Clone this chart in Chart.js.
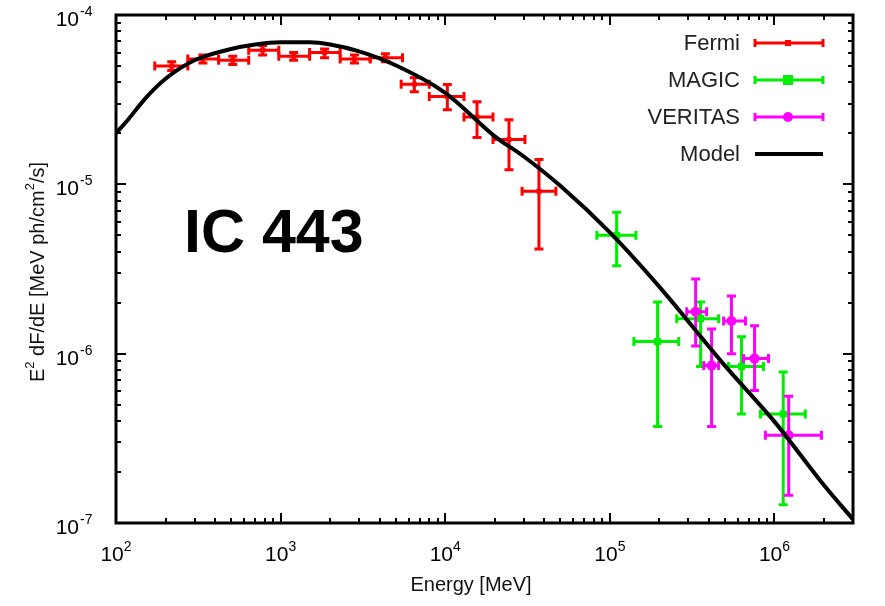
<!DOCTYPE html>
<html>
<head>
<meta charset="utf-8">
<script src="https://cdn.jsdelivr.net/npm/chart.js@4.4.1/dist/chart.umd.min.js"></script>
<style>
  html, body { margin: 0; padding: 0; background: #fff; }
</style>
</head>
<body>
<canvas id="sedChart" width="885" height="606"></canvas>
<script>
// Fermi-LAT points (energy in MeV, E^2 dF/dE in MeV/cm2/s)
const fermiE    = [218, 337, 512, 778, 1200, 1850, 2810, 4330, 6490, 10300, 15600, 24400, 37100];
const fermiElo  = [172, 273, 420, 640, 975, 1500, 2300, 3500, 5400, 8000, 13000, 19500, 29300];
const fermiEhi  = [273, 420, 640, 975, 1500, 2300, 3500, 5500, 8000, 13000, 19500, 30500, 47000];
const fermiF    = [5.0e-5, 5.5e-5, 5.4e-5, 6.2e-5, 5.7e-5, 6.0e-5, 5.5e-5, 5.6e-5, 3.9e-5, 3.3e-5, 2.5e-5, 1.84e-5, 9.1e-6];
const fermiFlo  = [4.7e-5, 5.2e-5, 5.1e-5, 5.8e-5, 5.4e-5, 5.6e-5, 5.2e-5, 5.3e-5, 3.52e-5, 2.76e-5, 1.89e-5, 1.22e-5, 4.15e-6];
const fermiFhi  = [5.3e-5, 5.8e-5, 5.7e-5, 6.6e-5, 6.0e-5, 6.3e-5, 5.8e-5, 5.9e-5, 4.26e-5, 3.88e-5, 3.07e-5, 2.41e-5, 1.40e-5];

// MAGIC
const magicE   = [110000, 195000, 356000, 631000, 1130000];
const magicElo = [83400, 140000, 255000, 526000, 822000];
const magicEhi = [144000, 262000, 458000, 857000, 1540000];
const magicF   = [5.0e-6, 1.18e-6, 1.61e-6, 8.4e-7, 4.4e-7];
const magicFlo = [3.3e-6, 3.72e-7, 8.4e-7, 4.4e-7, 1.28e-7];
const magicFhi = [6.84e-6, 2.02e-6, 2.02e-6, 1.26e-6, 7.8e-7];

// VERITAS
const veritasE   = [332000, 415000, 548000, 757000, 1220000];
const veritasElo = [293000, 372000, 491000, 649000, 881000];
const veritasEhi = [387000, 458000, 667000, 920000, 1930000];
const veritasF   = [1.77e-6, 8.5e-7, 1.56e-6, 9.35e-7, 3.3e-7];
const veritasFlo = [1.11e-6, 3.72e-7, 1.0e-6, 6.05e-7, 1.46e-7];
const veritasFhi = [2.76e-6, 1.4e-6, 2.19e-6, 1.46e-6, 5.6e-7];

// model curve
const modelE = [100, 120, 150, 200, 300, 500, 700, 1000, 1500, 2000, 3000, 5000, 10000, 20000, 30000, 50000, 100000, 200000, 500000, 1000000, 2000000, 3000000];
const modelF = [2.0e-5, 2.45e-5, 3.2e-5, 4.2e-5, 5.4e-5, 6.3e-5, 6.7e-5, 6.9e-5, 6.9e-5, 6.7e-5, 6.1e-5, 5.05e-5, 3.47e-5, 1.92e-5, 1.46e-5, 9.8e-6, 5.2e-6, 2.48e-6, 8.5e-7, 3.97e-7, 1.67e-7, 1.05e-7];

// axis ticks
const xDecades = [100, 1000, 10000, 100000, 1000000];
const xExps = ['2', '3', '4', '5', '6'];
const yDecades = [1e-4, 1e-5, 1e-6, 1e-7];
const yExps = ['-4', '-5', '-6', '-7'];

const FONT = '"Liberation Sans", Arial, Helvetica, sans-serif';

const toPts = (xs, ys) => xs.map((x, i) => ({ x: x, y: ys[i] }));

// error bars per dataset index
const errorBars = {
    1: { color: '#ff0000', elo: fermiElo, ehi: fermiEhi, flo: fermiFlo, fhi: fermiFhi },
    2: { color: '#00ee00', elo: magicElo, ehi: magicEhi, flo: magicFlo, fhi: magicFhi },
    3: { color: '#ff00ff', elo: veritasElo, ehi: veritasEhi, flo: veritasFlo, fhi: veritasFhi }
};

const errorBarPlugin = {
    id: 'errorBars',
    beforeDatasetsDraw(chart) {
        const ctx = chart.ctx;
        const xs = chart.scales.x, ys = chart.scales.y;
        const cap = 4.5;
        ctx.save();
        ctx.lineWidth = 3;
        ctx.lineCap = 'butt';
        Object.keys(errorBars).forEach(idx => {
            const eb = errorBars[idx];
            const pts = chart.data.datasets[idx].data;
            ctx.strokeStyle = eb.color;
            pts.forEach((p, i) => {
                const px = xs.getPixelForValue(p.x);
                const py = ys.getPixelForValue(p.y);
                const x0 = xs.getPixelForValue(eb.elo[i]);
                const x1 = xs.getPixelForValue(eb.ehi[i]);
                const y0 = ys.getPixelForValue(eb.flo[i]);
                const y1 = ys.getPixelForValue(eb.fhi[i]);
                ctx.beginPath();
                ctx.moveTo(x0, py); ctx.lineTo(x1, py);
                ctx.moveTo(px, y0); ctx.lineTo(px, y1);
                // caps
                ctx.moveTo(x0, py - cap); ctx.lineTo(x0, py + cap);
                ctx.moveTo(x1, py - cap); ctx.lineTo(x1, py + cap);
                ctx.moveTo(px - cap, y0); ctx.lineTo(px + cap, y0);
                ctx.moveTo(px - cap, y1); ctx.lineTo(px + cap, y1);
                ctx.stroke();
            });
        });
        ctx.restore();
    }
};

function drawParts(ctx, parts, x, y, size, supSize, align) {
    // parts: [text, isSuperscript]
    let total = 0;
    const widths = parts.map(p => {
        ctx.font = (p[1] ? supSize : size) + 'px ' + FONT;
        const w = ctx.measureText(p[0]).width;
        total += w;
        return w;
    });
    let cx = align === 'center' ? x - total / 2 : (align === 'right' ? x - total : x);
    ctx.textAlign = 'left';
    ctx.textBaseline = 'alphabetic';
    parts.forEach((p, i) => {
        ctx.font = (p[1] ? supSize : size) + 'px ' + FONT;
        ctx.fillText(p[0], cx, p[1] ? y - size * 0.5 : y);
        cx += widths[i];
    });
}

const framePlugin = {
    id: 'frame',
    afterDraw(chart) {
        const ctx = chart.ctx;
        const a = chart.chartArea;
        const xs = chart.scales.x, ys = chart.scales.y;
        ctx.save();
        ctx.strokeStyle = '#000';
        ctx.fillStyle = '#000';

        // inward ticks
        ctx.lineWidth = 2;
        ctx.beginPath();
        for (let d = 100; d <= 1e6; d *= 10) {
            for (let k = 1; k <= 9; k++) {
                const v = d * k;
                if (v > 3e6) break;
                const px = Math.round(xs.getPixelForValue(v));
                const len = k === 1 ? 10 : 5;
                ctx.moveTo(px, a.bottom); ctx.lineTo(px, a.bottom - len);
                ctx.moveTo(px, a.top); ctx.lineTo(px, a.top + len);
            }
        }
        for (let d = 1e-7; d <= 1.1e-4; d *= 10) {
            for (let k = 1; k <= 9; k++) {
                const v = d * k;
                if (v > 1.01e-4) break;
                const py = Math.round(ys.getPixelForValue(v));
                const len = k === 1 ? 10 : 5;
                ctx.moveTo(a.left, py); ctx.lineTo(a.left + len, py);
                ctx.moveTo(a.right, py); ctx.lineTo(a.right - len, py);
            }
        }
        ctx.stroke();

        // frame
        ctx.lineWidth = 3;
        ctx.strokeRect(a.left, a.top, a.right - a.left, a.bottom - a.top);

        // tick labels
        xDecades.forEach((v, i) => {
            drawParts(ctx, [['10', false], [xExps[i], true]], xs.getPixelForValue(v), 561, 21, 14, 'center');
        });
        yDecades.forEach((v, i) => {
            const py = ys.getPixelForValue(v);
            ctx.font = '21px ' + FONT;
            ctx.textAlign = 'right';
            ctx.textBaseline = 'alphabetic';
            ctx.fillText('10', 79, py + 11);
            ctx.font = '14px ' + FONT;
            ctx.textAlign = 'left';
            ctx.fillText(yExps[i], 80, py + 1);
        });

        // axis titles
        ctx.fillStyle = '#111';
        ctx.font = '20px ' + FONT;
        ctx.textAlign = 'center';
        ctx.fillText('Energy [MeV]', 471, 591);
        ctx.save();
        ctx.translate(44, 272);
        ctx.rotate(-Math.PI / 2);
        drawParts(ctx, [['E', false], ['2', true], [' dF/dE [MeV ph/cm', false], ['2', true], ['/s]', false]], 0, 0, 20, 13, 'center');
        ctx.restore();

        // source name
        ctx.fillStyle = '#000';
        ctx.font = 'bold 61px ' + FONT;
        ctx.textAlign = 'left';
        ctx.fillText('IC 443', 184, 252);

        // legend
        const rows = [
            { label: 'Fermi', color: '#ff0000', marker: 'sq', size: 3, y: 43 },
            { label: 'MAGIC', color: '#00ee00', marker: 'sq', size: 5, y: 80 },
            { label: 'VERITAS', color: '#ff00ff', marker: 'circ', size: 5, y: 117 },
            { label: 'Model', color: '#000000', marker: null, size: 0, y: 154 }
        ];
        const lx0 = 755, lx1 = 823, lxm = 788;
        rows.forEach(r => {
            ctx.fillStyle = '#222';
            ctx.font = '22px ' + FONT;
            ctx.textAlign = 'right';
            ctx.textBaseline = 'middle';
            ctx.fillText(r.label, 740, r.y + 1);
            ctx.strokeStyle = r.color;
            ctx.fillStyle = r.color;
            if (r.marker) {
                ctx.lineWidth = 3;
                ctx.beginPath();
                ctx.moveTo(lx0, r.y); ctx.lineTo(lx1, r.y);
                ctx.moveTo(lx0, r.y - 4); ctx.lineTo(lx0, r.y + 4);
                ctx.moveTo(lx1, r.y - 4); ctx.lineTo(lx1, r.y + 4);
                ctx.moveTo(lxm, r.y - 3); ctx.lineTo(lxm, r.y + 3);
                ctx.stroke();
                if (r.marker === 'sq') {
                    ctx.fillRect(lxm - r.size, r.y - r.size, r.size * 2, r.size * 2);
                } else {
                    ctx.beginPath();
                    ctx.arc(lxm, r.y, r.size, 0, Math.PI * 2);
                    ctx.fill();
                }
            } else {
                ctx.lineWidth = 4;
                ctx.beginPath();
                ctx.moveTo(lx0, r.y); ctx.lineTo(lx1, r.y);
                ctx.stroke();
            }
        });
        ctx.restore();
    }
};

const chart = new Chart(document.getElementById('sedChart'), {
    type: 'scatter',
    data: {
        datasets: [
            {
                label: 'Model',
                type: 'line',
                data: toPts(modelE, modelF),
                borderColor: '#000',
                borderWidth: 4,
                pointRadius: 0,
                cubicInterpolationMode: 'monotone',
                fill: false
            },
            {
                label: 'Fermi',
                data: toPts(fermiE, fermiF),
                backgroundColor: '#ff0000',
                borderColor: '#ff0000',
                pointStyle: 'rect',
                pointRadius: 3.5,
                borderWidth: 0
            },
            {
                label: 'MAGIC',
                data: toPts(magicE, magicF),
                backgroundColor: '#00ee00',
                borderColor: '#00ee00',
                pointStyle: 'rect',
                pointRadius: 5,
                borderWidth: 0
            },
            {
                label: 'VERITAS',
                data: toPts(veritasE, veritasF),
                backgroundColor: '#ff00ff',
                borderColor: '#ff00ff',
                pointStyle: 'circle',
                pointRadius: 5,
                borderWidth: 0
            }
        ]
    },
    options: {
        responsive: false,
        animation: false,
        devicePixelRatio: 1,
        layout: { padding: { left: 116, right: 32, top: 15, bottom: 83 } },
        scales: {
            x: { type: 'logarithmic', min: 100, max: 3e6, display: false },
            y: { type: 'logarithmic', min: 1e-7, max: 1e-4, display: false }
        },
        plugins: {
            legend: { display: false },
            tooltip: { enabled: false }
        }
    },
    plugins: [errorBarPlugin, framePlugin]
});
</script>
</body>
</html>
